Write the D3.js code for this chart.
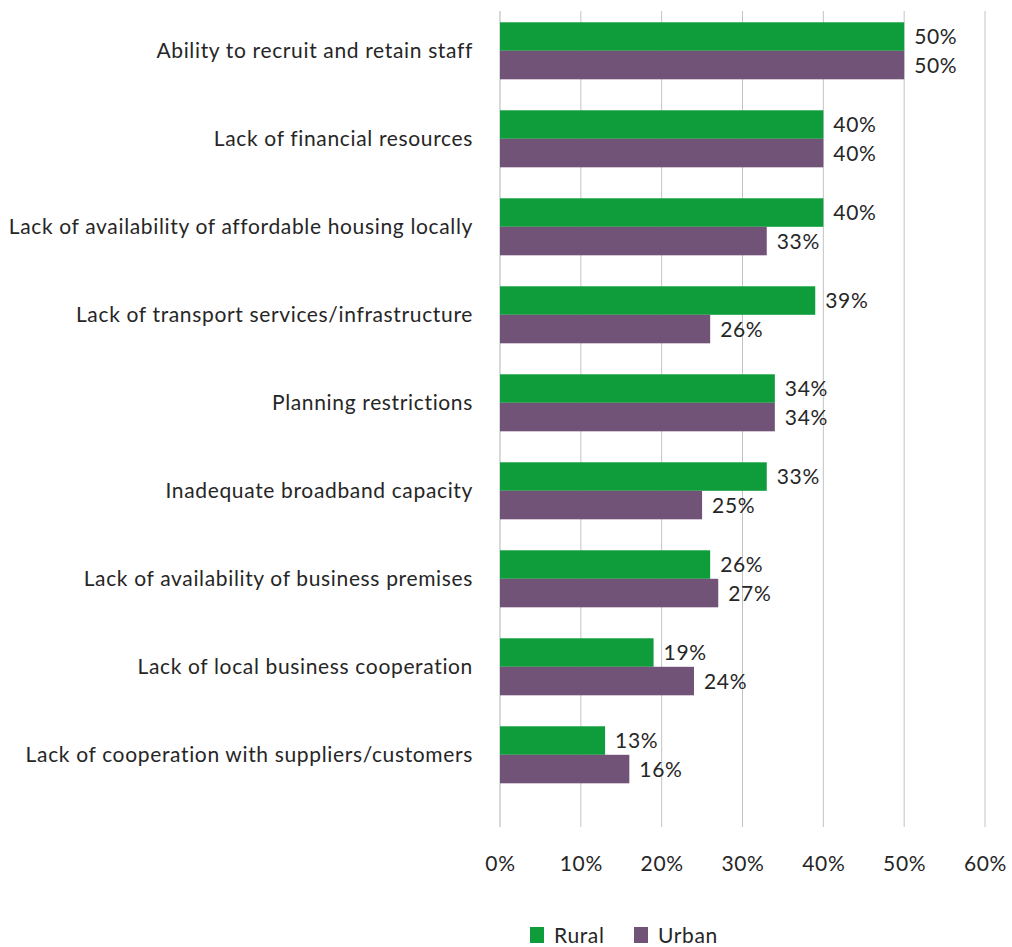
<!DOCTYPE html>
<html>
<head>
<meta charset="utf-8">
<script src="https://cdn.jsdelivr.net/npm/d3@7"></script>
<style>
  html, body { margin: 0; padding: 0; background: #fff; }
  svg { display: block; font-family: Lato, "Open Sans", sans-serif; letter-spacing: 0.65px; }
</style>
</head>
<body>
<svg id="chart" width="1012" height="947"></svg>
<script>
// Barriers to business growth, share of respondents by area type
const categories = [
  "Ability to recruit and retain staff",
  "Lack of financial resources",
  "Lack of availability of affordable housing locally",
  "Lack of transport services/infrastructure",
  "Planning restrictions",
  "Inadequate broadband capacity",
  "Lack of availability of business premises",
  "Lack of local business cooperation",
  "Lack of cooperation with suppliers/customers"
];
const seriesNames = ["Rural", "Urban"];
const rural = [50, 40, 40, 39, 34, 33, 26, 19, 13];
const urban = [50, 40, 33, 26, 34, 25, 27, 24, 16];
const xTicks = [0, 10, 20, 30, 40, 50, 60];

const colors = { Rural: "#0f9c3a", Urban: "#715377" };
const textColor = "#262626";
const fontSize = 21;

const svg = d3.select("#chart");

const x = d3.scaleLinear().domain([0, 60]).range([500, 985]);
const y = d3.scaleBand()
  .domain(categories)
  .range([6.8, 6.8 + 88 * 9])
  .paddingInner(0.352)
  .paddingOuter(0.176);
const sub = d3.scaleBand().domain(seriesNames).range([0, y.bandwidth()]);

const gridTop = 11, gridBottom = 827;

// vertical gridlines
svg.append("g")
  .selectAll("line")
  .data(xTicks.filter(t => t > 0))
  .join("line")
  .attr("x1", d => x(d)).attr("x2", d => x(d))
  .attr("y1", gridTop).attr("y2", gridBottom)
  .attr("stroke", "#c3c3c3")
  .attr("stroke-width", 1);

// zero line
svg.append("line")
  .attr("x1", x(0)).attr("x2", x(0))
  .attr("y1", gridTop).attr("y2", gridBottom)
  .attr("stroke", "#d9d9d9")
  .attr("stroke-width", 2);

// x axis tick labels
const xAxis = d3.axisBottom(x)
  .tickValues(xTicks)
  .tickFormat(d => d + "%")
  .tickSize(0)
  .tickPadding(0);
const gx = svg.append("g")
  .attr("transform", `translate(0, 856)`)
  .call(xAxis);
gx.select(".domain").remove();
gx.selectAll("text")
  .attr("font-size", fontSize)
  .attr("fill", textColor)
  .attr("font-family", "Lato, sans-serif");

// category labels
svg.append("g")
  .selectAll("text")
  .data(categories)
  .join("text")
  .attr("x", 473)
  .attr("y", d => y(d) + y.bandwidth() / 2)
  .attr("dy", "0.35em")
  .attr("text-anchor", "end")
  .attr("font-size", fontSize)
  .attr("fill", textColor)
  .text(d => d);

const rows = categories.map((c, i) => ({
  category: c,
  values: [
    { key: "Rural", value: rural[i] },
    { key: "Urban", value: urban[i] }
  ]
}));

const groups = svg.append("g")
  .selectAll("g")
  .data(rows)
  .join("g")
  .attr("transform", d => `translate(0, ${y(d.category)})`);

groups.selectAll("rect")
  .data(d => d.values)
  .join("rect")
  .attr("x", x(0))
  .attr("y", d => sub(d.key))
  .attr("width", d => x(d.value) - x(0))
  .attr("height", sub.bandwidth())
  .attr("fill", d => colors[d.key]);

groups.selectAll("text.val")
  .data(d => d.values)
  .join("text")
  .attr("class", "val")
  .attr("x", d => x(d.value) + 10)
  .attr("y", d => sub(d.key) + sub.bandwidth() / 2)
  .attr("dy", "0.36em")
  .attr("font-size", fontSize)
  .attr("fill", textColor)
  .text(d => d.value + "%");

// legend
const legend = svg.append("g").attr("transform", "translate(530, 927)");
const legendItems = [
  { key: "Rural", dx: 0 },
  { key: "Urban", dx: 104 }
];
const li = legend.selectAll("g")
  .data(legendItems)
  .join("g")
  .attr("transform", d => `translate(${d.dx}, 0)`);
li.append("rect")
  .attr("width", 14).attr("height", 16)
  .attr("fill", d => colors[d.key]);
li.append("text")
  .attr("x", 24)
  .attr("y", 16)
  .attr("font-size", fontSize)
  .attr("fill", textColor)
  .text(d => d.key);
</script>
</body>
</html>
